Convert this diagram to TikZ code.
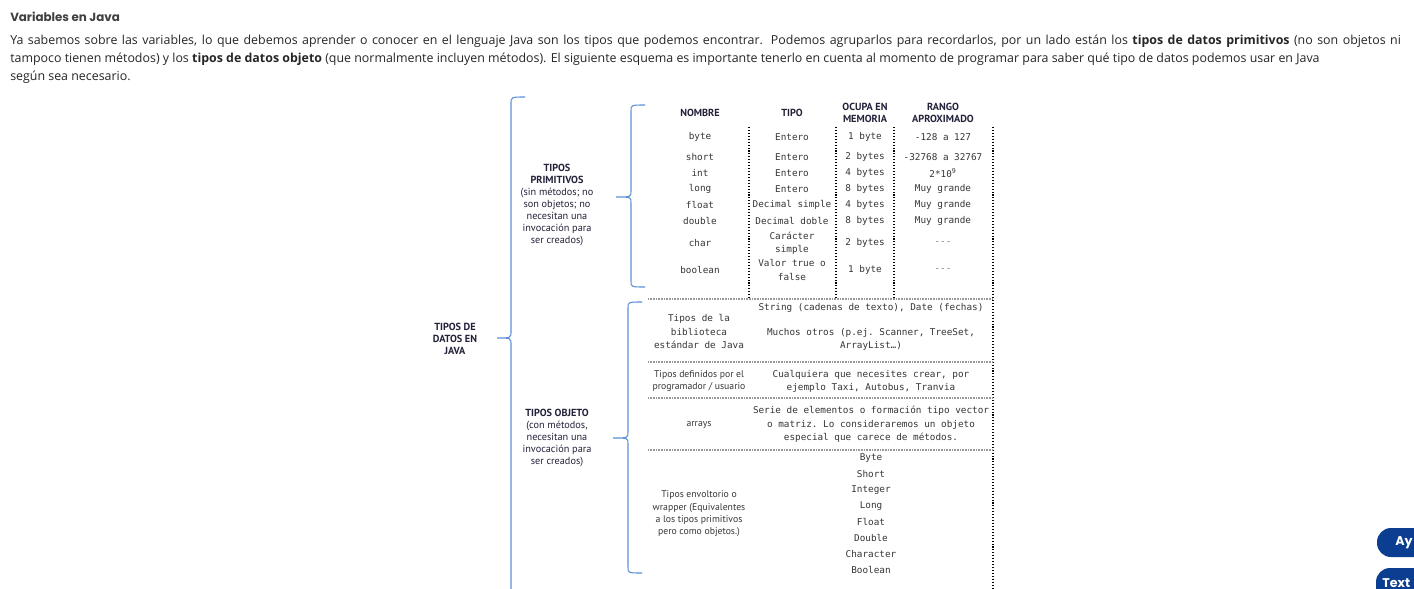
\documentclass[tikz,border=0pt]{standalone}
\usepackage{fontspec}
\setmainfont{Open Sans}
\newfontfamily\titulofont{Poppins}
\newfontfamily\esquemafont{PT Sans}
\setmonofont{DejaVu Sans Mono}
\usepackage{xcolor}
\definecolor{llaveazul}{HTML}{5B8FD6}
\definecolor{textogris}{HTML}{363636}
\definecolor{tinta}{HTML}{22223A}
\definecolor{azulboton}{HTML}{0B3D91}

\begin{document}
\begin{tikzpicture}[x=0.75pt,y=-0.75pt,
  llave/.style={draw=llaveazul,line width=0.8pt},
  mono/.style={font=\ttfamily\fontsize{7}{10}\selectfont,text=textogris,align=center,inner sep=0pt},
  etiq/.style={font=\esquemafont\fontsize{7.3}{9.2}\selectfont,text=textogris,align=center,inner sep=0pt},
  cab/.style={font=\esquemafont\bfseries\fontsize{7.7}{9}\selectfont,text=tinta,align=center,inner sep=0pt},
  grupo/.style={font=\esquemafont\fontsize{7.7}{9}\selectfont,text=tinta,align=center,inner sep=0pt},
  punteado/.style={dash pattern=on 0.8pt off 1.4pt,line width=0.8pt},
  rayado/.style={draw=gray!80,dash pattern=on 0.6pt off 0.6pt,line width=1pt},
  parrafo/.style={anchor=west,inner sep=0pt,text=black!85,font=\fontsize{9.3}{11}\selectfont},
  boton/.style={anchor=west,inner sep=0pt,text=white,font=\titulofont\bfseries\fontsize{9.5}{11}\selectfont}]
  \useasboundingbox (0,0) rectangle (1414,589);
  \fill[white] (0,0) rectangle (1414,589);

  % encabezado
  \node[anchor=west,inner sep=0pt,text=black!75,font=\titulofont\bfseries\fontsize{8.9}{10}\selectfont] (titulo) at (10,17) {Variables en Java};
  \node[parrafo] (linea1) at (10,41) {\hbox to 1043pt{Ya sabemos sobre las variables, lo que debemos aprender o conocer en el lenguaje Java son los tipos que podemos encontrar. Podemos agruparlos para recordarlos, por un lado están los \textbf{tipos de datos primitivos} (no son objetos ni}};
  \node[parrafo] (linea2) at (10,59) {\hbox to 982pt{tampoco tienen métodos) y los \textbf{tipos de datos objeto} (que normalmente incluyen métodos). El siguiente esquema es importante tenerlo en cuenta al momento de programar para saber qué tipo de datos podemos usar en Java}};
  \node[parrafo] (linea3) at (10,77) {según sea necesario.};

  % llaves
  \draw[llave] (525,97) .. controls (511,97) .. (511,104) -- (511,331)
    .. controls (511,338) .. (497,338) .. controls (511,338) .. (511,345) -- (511,590);
  \draw[llave] (645,105) .. controls (631,105) .. (631,111) -- (631,191)
    .. controls (631,197) .. (616,197) .. controls (631,197) .. (631,203) -- (631,281)
    .. controls (631,287) .. (645,287);
  \draw[llave] (642,302) .. controls (628,302) .. (628,308) -- (628,432)
    .. controls (628,438) .. (613,438) .. controls (628,438) .. (628,444) -- (628,567)
    .. controls (628,573) .. (642,573);

  \node[grupo] (datos) at (455,339) {\textbf{TIPOS DE}\\\textbf{DATOS EN}\\\textbf{JAVA}};
  \node[grupo] (primitivos) at (557,205) {\textbf{TIPOS}\\\textbf{PRIMITIVOS}\\(sin métodos; no\\son objetos; no\\necesitan una\\invocación para\\ser creados)};
  \node[grupo] (objetos) at (557,438) {\textbf{TIPOS OBJETO}\\(con métodos,\\necesitan una\\invocación para\\ser creados)};

  % tabla de primitivos
  \node[cab] (hnombre) at (700,113) {NOMBRE};
  \node[cab] (htipo) at (792,113) {TIPO};
  \node[cab] (hmem) at (865,113) {OCUPA EN\\MEMORIA};
  \node[cab] (hrango) at (943,113) {RANGO\\APROXIMADO};
  \foreach \nom/\tip/\mem/\ran/\y in {byte/Entero/1 byte/-128 a 127/137,
      short/Entero/2 bytes/-32768 a 32767/157, int/Entero/4 bytes/2*10\textsuperscript{9}/173,
      long/Entero/8 bytes/Muy grande/189, float/Decimal simple/4 bytes/Muy grande/205,
      double/Decimal doble/8 bytes/Muy grande/221}
  {
    \node[mono] (n-\nom) at (700,\y) {\nom};
    \node[mono] (t-\nom) at (792,\y) {\tip};
    \node[mono] (m-\nom) at (865,\y) {\mem};
    \node[mono] (r-\nom) at (943,\y) {\ran};
  }
  \node[mono] (n-char) at (700,243) {char};
  \node[mono] (t-char) at (792,243) {Carácter\\simple};
  \node[mono] (m-char) at (865,243) {2 bytes};
  \node[mono,text=gray] (r-char) at (943,243) {-{}-{}-};
  \node[mono] (n-boolean) at (700,270) {boolean};
  \node[mono] (t-boolean) at (792,270) {Valor true o\\false};
  \node[mono] (m-boolean) at (865,270) {1 byte};
  \node[mono,text=gray] (r-boolean) at (943,270) {-{}-{}-};

  \foreach \x in {749,836,894}
    \draw[punteado] (\x,127) -- (\x,298);
  \draw[punteado] (993,127) -- (993,590);

  % tabla de objetos
  \foreach \y in {299,362,398,450}
    \draw[rayado] (648,\y) -- (993,\y);
  \node[mono] (biblio) at (699,331.5) {Tipos de la\\biblioteca\\estándar de Java};
  \node[mono] (string) at (871,308) {String (cadenas de texto), Date (fechas)};
  \node[mono] (otros) at (871,339.5) {Muchos otros (p.ej. Scanner, TreeSet,\\ArrayList…)};
  \node[etiq] (definidos) at (699,381) {Tipos definidos por el\\programador / usuario};
  \node[mono] (cualquiera) at (871,381.5) {Cualquiera que necesites crear, por\\ejemplo Taxi, Autobus, Tranvia};
  \node[etiq] (arrays) at (699,425) {arrays};
  \node[mono] (serie) at (871,424.5) {Serie de elementos o formación tipo vector\\o matriz. Lo consideraremos un objeto\\especial que carece de métodos.};
  \node[etiq] (envoltorio) at (699,514) {Tipos envoltorio o\\wrapper (Equivalentes\\a los tipos primitivos\\pero como objetos.)};
  \foreach \w [count=\i] in {Byte,Short,Integer,Long,Float,Double,Character,Boolean}
    \node[mono] (w\i) at (871,442+16*\i) {\w};

  % botones
  \fill[azulboton,rounded corners=10.5pt] (1377,528) rectangle (1440,557);
  \fill[azulboton,rounded corners=10.5pt] (1376,568) rectangle (1440,605);
  \node[boton] (ayuda) at (1395,543) {Ay};
  \node[boton] (texto) at (1382,583) {Text};
\end{tikzpicture}
\end{document}
